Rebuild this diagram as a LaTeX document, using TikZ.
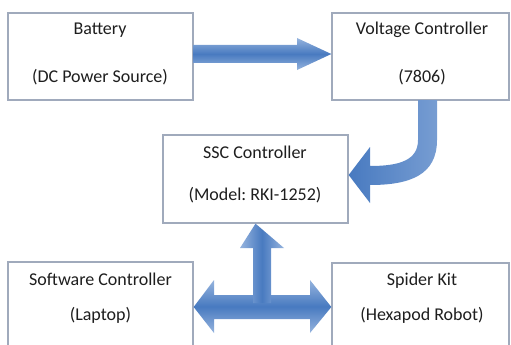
\documentclass[tikz,border=0pt]{standalone}
\usepackage{fontspec}
\setmainfont{Carlito}
\frenchspacing
\usetikzlibrary{calc}
\definecolor{boxline}{RGB}{160,170,188}
\definecolor{arrdark}{RGB}{72,122,192}
\definecolor{arrlight}{RGB}{150,180,222}
\definecolor{txt}{RGB}{30,30,30}
\tikzset{
  blk/.style={draw=boxline, line width=1.3pt, fill=white, inner sep=0pt},
  lbl/.style={anchor=base, inner sep=0pt, text=txt, font=\fontsize{18}{21}\selectfont},
  harrow/.style={top color=arrlight, bottom color=arrlight, middle color=arrdark, draw=none},
  varrow/.style={left color=arrlight, right color=arrlight, middle color=arrdark, draw=none},
  carrow/.style={left color=arrdark, right color=arrlight!60!arrdark, draw=none},
}
\begin{document}
\begin{tikzpicture}[x=1pt,y=-1pt]
\useasboundingbox (0,0) rectangle (511,345);
\clip (0,0) rectangle (511,345);
% boxes
\node[blk, minimum width=185pt, minimum height=87pt] (bat) at (100.5,56.5) {};
\node[blk, minimum width=177pt, minimum height=87pt] (vc) at (420.5,56.5) {};
\node[blk, minimum width=185pt, minimum height=88pt] (ssc) at (255.5,179) {};
\node[blk, minimum width=185pt, minimum height=100pt] (sw) at (100.5,312) {};
\node[blk, minimum width=177pt, minimum height=100pt] (spk) at (420.5,313) {};
% texts
\node[lbl] (t1) at (100,34.5) {Battery};
\node[lbl] (t2) at (100,82.5) {(DC Power Source)};
\node[lbl] (t3) at (422,34.5) {Voltage Controller};
\node[lbl] (t4) at (422,82.5) {(7806)};
\node[lbl] (t5) at (255,158) {SSC Controller};
\node[lbl] (t6) at (255,200) {(Model: RKI-1252)};
\node[lbl] (t7) at (100.5,285) {Software Controller};
\node[lbl] (t8) at (100.5,320.5) {(Laptop)};
\node[lbl] (t9) at (422,285) {Spider Kit};
\node[lbl] (t10) at (422,320.5) {(Hexapod Robot)};
% arrow battery -> voltage controller
\path[harrow] (bat.east |- 0,45) -- (297,45) -- (297,38) -- (vc.west |- 0,54) -- (297,70) -- (297,63) -- (bat.east |- 0,63) -- cycle;
% curved arrow voltage controller -> ssc
\path[carrow] (418,100) -- (418,140) .. controls (418,160) and (400,166) .. (370,166)
  -- (370,147) -- (ssc.east |- 0,175) -- (370,203) -- (370,185)
  .. controls (410,185) and (437,175) .. (437,140) -- (437,100) -- cycle;
% T arrow ssc <-> software / spider
\path[harrow] (214,295) -- (214,280) -- (sw.east |- 0,307) -- (214,333) -- (214,319)
  -- (310,319) -- (310,333) -- (spk.west |- 0,307) -- (310,280) -- (310,295) -- cycle;
\path[varrow] (253,303) -- (253,248) -- (240,248) -- (ssc.south) -- (284,248) -- (271,248) -- (271,303) -- cycle;
\end{tikzpicture}
\end{document}
